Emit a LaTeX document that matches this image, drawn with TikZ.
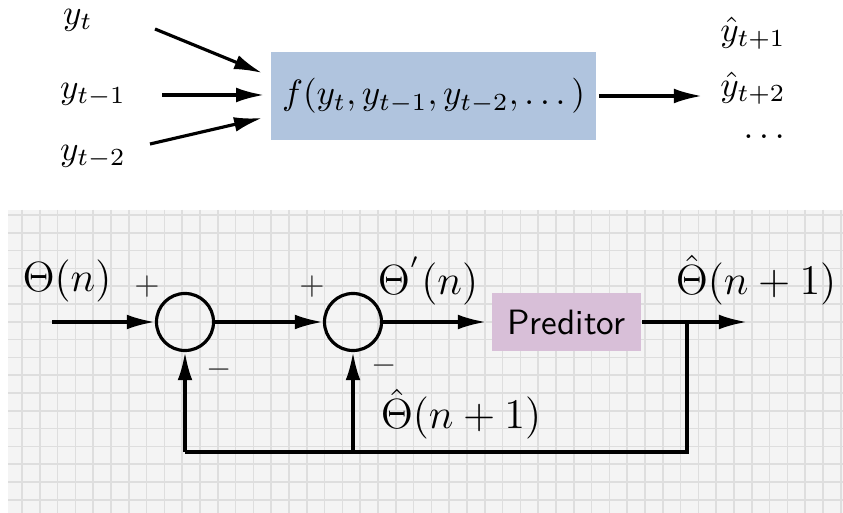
\documentclass[tikz,border=0pt]{standalone}
\usepackage{amsmath, amssymb}
\usepackage{tikz}
\usetikzlibrary{arrows.meta, positioning}

\definecolor{boxblue}{HTML}{B0C4DE}
\definecolor{boxpurple}{HTML}{D8BFD8}
\definecolor{paper}{HTML}{F4F4F4}
\definecolor{gridgray}{HTML}{DEDEDE}

\begin{document}
\begin{tikzpicture}[
        x=0.01cm, y=-0.01cm,
        block/.style={rectangle, fill=boxblue, minimum width=3.25cm, minimum height=0.88cm, inner sep=0pt},
        predbox/.style={rectangle, fill=boxpurple, minimum width=1.49cm, minimum height=0.58cm, inner sep=0pt, font=\sffamily},
        sumnode/.style={circle, draw, line width=0.9pt, minimum size=0.57cm, inner sep=0pt},
        sig/.style={font=\fontsize{11.5}{13}\selectfont, inner sep=0pt},
        sign/.style={font=\small, text=black!80, inner sep=0pt},
        arrow/.style={-{Latex[length=8pt, width=4.2pt]}, line width=0.9pt},
        wire/.style={line width=0.9pt, line join=miter}
    ]
    \useasboundingbox (0,0) rectangle (843,513);

    % Background: grid paper behind the loop
    \fill[paper] (8,210) rectangle (843,513);
    \foreach \i in {0,...,46}
        \draw[gridgray, line width=0.5pt] ({22+17.8*\i},210) -- ({22+17.8*\i},513);
    \foreach \j in {0,...,16}
        \draw[gridgray, line width=0.5pt] (8,{215+17.8*\j}) -- (843,{215+17.8*\j});

    % Top: lagged inputs into the model
    \node (yt) at (78,20) {$y_t$};
    \node (yt1) at (93,95) {$y_{t-1}$};
    \node (yt2) at (93,157) {$y_{t-2}$};
    \node[block] (f) at (433.5,96) {$f(y_t, y_{t-1}, y_{t-2}, \dots)$};
    \node (yh1) at (753,33) {$\hat{y}_{t+1}$};
    \node (yh2) at (753,88) {$\hat{y}_{t+2}$};
    \node (ydots) at (767,137) {$\dots$};

    \coordinate (in1) at (155,29);
    \coordinate (in2) at (162,95);
    \coordinate (in3) at (150,144);
    \coordinate (out) at (702,96);

    \draw[arrow] (in1) -- ([xshift=-0.08cm, yshift=0.23cm]f.west);
    \draw[arrow] (in2) -- ([xshift=-0.06cm, yshift=0.01cm]f.west);
    \draw[arrow] (in3) -- ([xshift=-0.08cm, yshift=-0.22cm]f.west);
    \draw[arrow] ([xshift=0.02cm]f.east) -- (out);

    % Bottom: feedback loop
    \node[sig] (thin) at (67,281) {$\Theta(n)$};
    \node[sumnode] (s1) at (185,322) {};
    \node[sumnode] (s2) at (353,322) {};
    \node[predbox] (pred) at (566.5,322) {Preditor};
    \node[sig] (thp) at (428,281) {$\Theta^{'}(n)$};
    \node[sig] (thout) at (756,280) {$\hat{\Theta}(n+1)$};
    \node[sig] (thfb) at (461,414) {$\hat{\Theta}(n+1)$};

    \node[sign] (p1) at (147,287) {$+$};
    \node[sign] (m1) at (219,370) {$-$};
    \node[sign] (p2) at (312,287) {$+$};
    \node[sign] (m2) at (384,366) {$-$};

    \coordinate (start) at (52,322);
    \coordinate (tap) at (687,322);
    \coordinate (end) at (747,322);
    \coordinate (c1) at (687,452);
    \coordinate (c2) at (353,452);
    \coordinate (c3) at (185,452);

    \draw[arrow] (start) -- (s1);
    \draw[arrow] (s1) -- (s2);
    \draw[arrow, shorten >=1.5pt] (s2) -- (pred);
    \draw[arrow] (pred) -- (end);
    \draw[wire] (tap) -- (c1) -- (c3);
    \draw[arrow] (c3) -- (s1);
    \draw[arrow] (c2) -- (s2);

\end{tikzpicture}
\end{document}
